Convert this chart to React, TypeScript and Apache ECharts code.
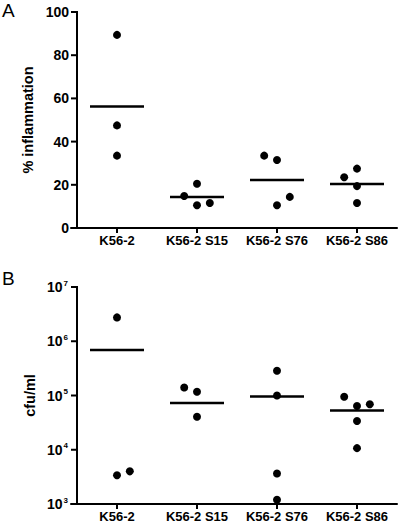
import React, { useEffect, useRef } from "react";
import * as echarts from "echarts";

const categories = ["K56-2", "K56-2 S15", "K56-2 S76", "K56-2 S86"];

// Panel A: % inflammation, per group
const inflValues = [
  [89.4, 47.5, 33.5],
  [14.8, 20.5, 10.5, 11.6],
  [33.5, 31.5, 10.5, 14.4],
  [23.5, 27.5, 19.4, 11.6],
];
const inflJitter = [
  [0, 0, 0],
  [-1, 0, 0, 1],
  [-1, 0, 0, 1],
  [-1, 0, 0, 0],
];
const inflMeans = [56.3, 14.3, 22.2, 20.4];
const inflTicks = [0, 20, 40, 60, 80, 100];

// Panel B: cfu/ml, per group
const cfuValues = [
  [2.75e6, 3.4e3, 4.0e3],
  [1.4e5, 1.17e5, 4.06e4],
  [2.86e5, 1.0e5, 3.65e3, 1.2e3],
  [9.5e4, 6.4e4, 6.9e4, 3.4e4, 1.07e4],
];
const cfuJitter = [
  [0, 0, 1],
  [-1, 0, 0],
  [0, 0, 0, 0],
  [-1, 0, 1, 0, 0],
];
const cfuMeans = [6.9e5, 7.3e4, 9.6e4, 5.3e4];
const cfuTicks = [1e3, 1e4, 1e5, 1e6, 1e7];

const JITTER = 0.16;
const X_MIN = -0.075;
const FONT = "Liberation Sans, Arial, Helvetica, sans-serif";

// category i is centred at i + 0.5 on the value x axis; the y spine sits at x = 0
function points(values: number[][], jitter: number[][]) {
  const out: number[][] = [];
  values.forEach((g, i) => g.forEach((v, j) => out.push([i + 0.5 + jitter[i][j] * JITTER, v])));
  return out;
}

export default function App() {
  const ref = useRef<HTMLDivElement>(null);
  useEffect(() => {
    document.body.style.margin = "0";
    const chart = echarts.init(ref.current!, null, { renderer: "svg" });
    const catPos = categories.map((_, i) => i + 0.5);
    const xAxisFor = (gi: number) => ({
      type: "value",
      gridIndex: gi,
      min: X_MIN,
      max: categories.length,
      splitLine: { show: false },
      axisLine: { show: true, onZero: false, lineStyle: { color: "#000", width: 2 } },
      axisTick: { show: true, customValues: catPos, length: 5, lineStyle: { color: "#000", width: 2 } },
      axisLabel: {
        customValues: catPos,
        formatter: (v: number) => categories[Math.floor(v)] ?? "",
        color: "#000",
        fontFamily: FONT,
        fontWeight: "bold",
        fontSize: 13,
        margin: 6,
      },
    });
    const dotStyle = { color: "#000", opacity: 1 };
    const yCommon = {
      splitLine: { show: false },
      nameLocation: "middle",
      nameMoveOverlap: false,
      nameTextStyle: { color: "#000", fontFamily: FONT, fontWeight: "bold", fontSize: 14.5 },
      axisLine: { show: false, onZero: false },
      axisTick: { show: false },
    };
    // y-axis spine and ticks, drawn through the axes' own scales
    const spine = (xi: number, yi: number, lo: number, hi: number) => ({
      type: "custom",
      xAxisIndex: xi,
      yAxisIndex: yi,
      silent: true,
      clip: false,
      z: 5,
      encode: { x: 0, y: [1, 2] },
      data: [[0, lo, hi]],
      renderItem: (params: any, api: any) => {
        const p1 = api.coord([api.value(0), api.value(1)]);
        const p2 = api.coord([api.value(0), api.value(2)]);
        return {
          type: "rect",
          shape: { x: p1[0] - 1, y: p2[1] - 1, width: 2, height: p1[1] - p2[1] + 2 },
          style: { fill: "#000" },
        };
      },
    });
    const ticks = (xi: number, yi: number, vals: number[]) => ({
      type: "custom",
      xAxisIndex: xi,
      yAxisIndex: yi,
      silent: true,
      clip: false,
      z: 5,
      encode: { x: 0, y: 1 },
      data: vals.map((v) => [0, v]),
      renderItem: (params: any, api: any) => {
        const p = api.coord([api.value(0), api.value(1)]);
        return {
          type: "rect",
          shape: { x: p[0] - 6, y: p[1] - 1, width: 6, height: 2 },
          style: { fill: "#000" },
        };
      },
    });
    const option: any = {
      animation: false,
      textStyle: { fontFamily: FONT },
      graphic: [
        { type: "text", left: 2, top: 1, style: { text: "A", font: "19px " + FONT, fill: "#000" } },
        { type: "text", left: 2, top: 269, style: { text: "B", font: "19px " + FONT, fill: "#000" } },
      ],
      grid: [
        { left: 71, right: 3, top: 12, height: 216 },
        { left: 71, right: 3, top: 287, height: 217 },
      ],
      xAxis: [xAxisFor(0), xAxisFor(1)],
      yAxis: [
        {
          ...yCommon,
          type: "value",
          gridIndex: 0,
          min: inflTicks[0],
          max: inflTicks[inflTicks.length - 1],
          interval: 20,
          name: "% inflammation",
          nameGap: 36,
          axisLabel: { color: "#000", fontFamily: FONT, fontWeight: "bold", fontSize: 14, margin: 2 },
        },
        {
          ...yCommon,
          type: "log",
          logBase: 10,
          gridIndex: 1,
          min: cfuTicks[0],
          max: cfuTicks[cfuTicks.length - 1],
          name: "cfu/ml",
          nameGap: 34,
          axisLabel: {
            color: "#000",
            margin: 3,
            formatter: (v: number) => `{b|10}{s|${Math.round(Math.log10(v))}}`,
            rich: {
              b: { fontFamily: FONT, fontWeight: "bold", fontSize: 14, lineHeight: 16, color: "#000" },
              s: { fontFamily: FONT, fontWeight: "bold", fontSize: 8, lineHeight: 8, verticalAlign: "top", color: "#000", padding: [0, 0, 0, 1] },
            },
          },
        },
      ],
      series: [
        spine(0, 0, inflTicks[0], inflTicks[inflTicks.length - 1]),
        ticks(0, 0, inflTicks),
        spine(1, 1, cfuTicks[0], cfuTicks[cfuTicks.length - 1]),
        ticks(1, 1, cfuTicks),
        {
          type: "scatter",
          xAxisIndex: 0,
          yAxisIndex: 0,
          symbol: "rect",
          symbolSize: [54, 2.5],
          itemStyle: dotStyle,
          data: inflMeans.map((m, i) => [i + 0.5, m]),
        },
        {
          type: "scatter",
          xAxisIndex: 0,
          yAxisIndex: 0,
          symbol: "circle",
          symbolSize: 8,
          itemStyle: dotStyle,
          data: points(inflValues, inflJitter),
        },
        {
          type: "scatter",
          xAxisIndex: 1,
          yAxisIndex: 1,
          symbol: "rect",
          symbolSize: [54, 2.5],
          itemStyle: dotStyle,
          data: cfuMeans.map((m, i) => [i + 0.5, m]),
        },
        {
          type: "scatter",
          xAxisIndex: 1,
          yAxisIndex: 1,
          symbol: "circle",
          symbolSize: 8,
          itemStyle: dotStyle,
          data: points(cfuValues, cfuJitter),
        },
      ],
    };
    chart.setOption(option);
    return () => chart.dispose();
  }, []);
  return <div ref={ref} style={{ width: 400, height: 524 }} />;
}
